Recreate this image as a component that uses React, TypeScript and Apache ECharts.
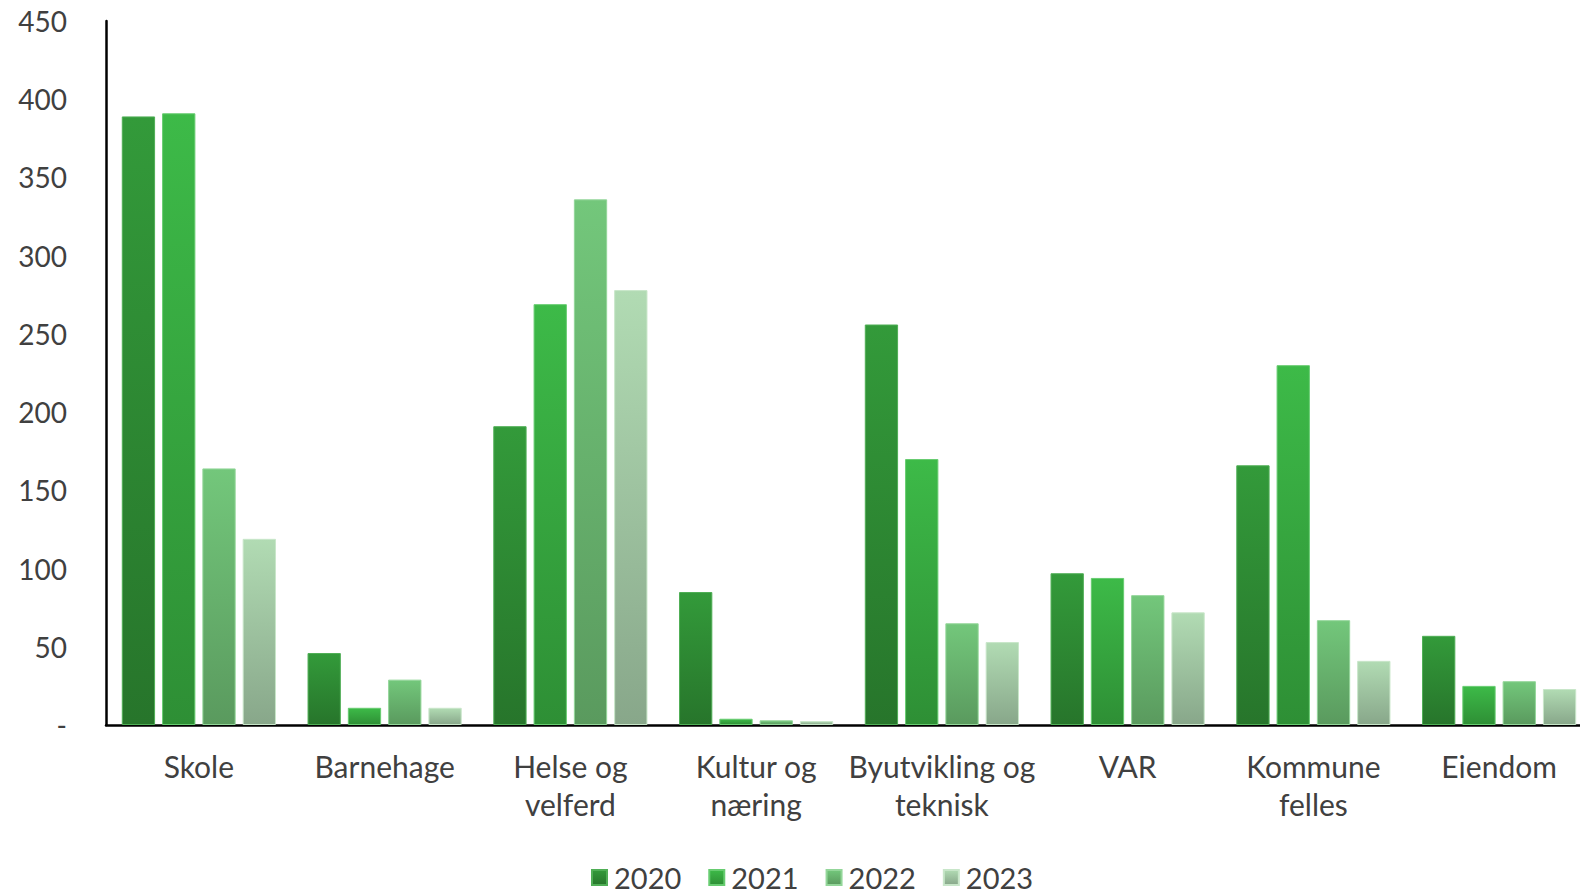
import React, { useEffect, useRef } from "react";
import * as echarts from "echarts";

const categories = ["Skole", "Barnehage", "Helse og\nvelferd", "Kultur og\nnæring", "Byutvikling og\nteknisk", "VAR", "Kommune\nfelles", "Eiendom"];
const years = ["2020", "2021", "2022", "2023"];
const v2020 = [389, 46, 191, 85, 256, 97, 166, 57];
const v2021 = [391, 11, 269, 4, 170, 94, 230, 25];
const v2022 = [164, 29, 336, 3, 65, 83, 67, 28];
const v2023 = [119, 11, 278, 2.5, 53, 72, 41, 23];
const yTicks = [0, 50, 100, 150, 200, 250, 300, 350, 400, 450];

const gradients: [string, string][] = [
  ["#339a3a", "#27752b"],
  ["#3dba48", "#2e8f35"],
  ["#73c77b", "#5a9a5e"],
  ["#b1dbb3", "#88a78a"],
];
const borders = ["#4fae55", "#67cc70", "#93d699", "#c8e6c9"];

export default function App() {
  const ref = useRef<HTMLDivElement>(null);
  useEffect(() => {
    const chart = echarts.init(ref.current!, undefined, { renderer: "svg" });
    const data = [v2020, v2021, v2022, v2023];
    const font = "Lato, 'Open Sans', sans-serif";
    chart.setOption({
      animation: false,
      textStyle: { fontFamily: font },
      grid: { left: 106, right: 0, top: 21, bottom: 170, containLabel: false },
      legend: {
        data: years,
        left: 586,
        top: 858,
        itemWidth: 15,
        itemHeight: 15,
        itemGap: 27,
        icon: "rect",
        textStyle: { fontSize: 29, lineHeight: 29, color: "#404040", fontFamily: font, padding: [0, 0, 0, 2] },
      },
      xAxis: {
        type: "category",
        data: categories,
        axisLine: { lineStyle: { color: "#000", width: 2.5 } },
        axisTick: { show: false },
        axisLabel: { fontSize: 30, color: "#404040", margin: 22, lineHeight: 38, interval: 0, fontFamily: font },
      },
      yAxis: {
        type: "value",
        min: 0,
        max: 450,
        interval: 50,
        splitLine: { show: false },
        axisLine: { show: true, lineStyle: { color: "#000", width: 2.5 } },
        axisTick: { show: false },
        axisLabel: {
          fontSize: 28,
          color: "#404040",
          margin: 39,
          fontFamily: font,
          formatter: (v: number) => (v === 0 ? "-" : String(v)),
          customValues: yTicks,
        },
      },
      series: years.map((y, i) => ({
        name: y,
        type: "bar",
        data: data[i],
        barGap: "21%",
        barCategoryGap: "17%",
        itemStyle: {
          color: new echarts.graphic.LinearGradient(0, 0, 0, 1, [
            { offset: 0, color: gradients[i][0] },
            { offset: 1, color: gradients[i][1] },
          ]),
          borderColor: borders[i],
          borderWidth: 1,
        },
      })),
    });
    return () => chart.dispose();
  }, []);
  return (
    <div style={{ position: "fixed", left: 0, top: 0, width: 1580, height: 895, overflow: "hidden", background: "#fff" }}>
      <div ref={ref} style={{ position: "absolute", left: 0, top: 0, width: 1592, height: 895 }} />
    </div>
  );
}
